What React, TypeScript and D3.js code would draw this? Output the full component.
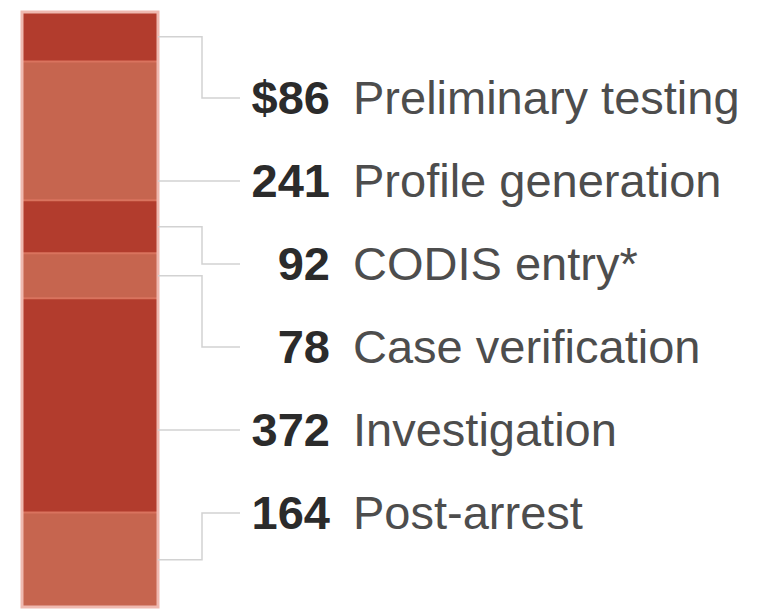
import * as d3 from "d3";

// stage names, values (top to bottom) and printed value labels
const STAGES = [
  "Preliminary testing",
  "Profile generation",
  "CODIS entry*",
  "Case verification",
  "Investigation",
  "Post-arrest",
];
const VALUES = [86, 241, 92, 78, 372, 164];
const VALUE_LABELS = ["$86", "241", "92", "78", "372", "164"];

const W = 760;
const H = 611;
const BAR_X = 22;
const BAR_W = 136;
const BAR_TOP = 12;
const BAR_BOTTOM = 607;
const ELBOW_X = 202;
const LINE_END = 240;
const NUM_X = 330;
const LABEL_X = 353;
const FONT = 47;

const DARK = "#b23c2d";
const LIGHT = "#c6654f";

export default function App() {
  const total = d3.sum(VALUES);
  const y = d3.scaleLinear().domain([0, total]).range([BAR_TOP, BAR_BOTTOM]);
  const row = d3
    .scaleLinear()
    .domain([0, STAGES.length - 1])
    .range([98, 513]);

  const starts = d3.cumsum([0, ...VALUES.slice(0, -1)]);
  const segs = VALUES.map((v, i) => ({
    y0: y(starts[i]),
    y1: y(starts[i] + v),
  }));

  const connector = (i: number) => {
    const s = segs[i];
    const ly = row(i);
    const x0 = BAR_X + BAR_W;
    if (ly >= s.y0 + 4 && ly <= s.y1 - 4) {
      return d3.line()([
        [x0, ly],
        [LINE_END, ly],
      ]);
    }
    const mid = (s.y0 + s.y1) / 2;
    return d3.line()([
      [x0, mid],
      [ELBOW_X, mid],
      [ELBOW_X, ly],
      [LINE_END, ly],
    ]);
  };

  return (
    <div>
      <style>{"body{margin:0}"}</style>
      <svg width={W} height={H} style={{ display: "block", background: "#fff" }}>
        {/* stacked bar */}
        {segs.map((s, i) => (
          <rect
            key={i}
            x={BAR_X}
            y={s.y0}
            width={BAR_W}
            height={s.y1 - s.y0}
            fill={i % 2 === 0 ? DARK : LIGHT}
          />
        ))}
        {/* light seams between segments */}
        {segs.slice(1).map((s, i) => (
          <line
            key={i}
            x1={BAR_X}
            x2={BAR_X + BAR_W}
            y1={s.y0}
            y2={s.y0}
            stroke="#d9735e"
            strokeWidth={2}
          />
        ))}
        <rect
          x={BAR_X}
          y={BAR_TOP}
          width={BAR_W}
          height={BAR_BOTTOM - BAR_TOP}
          fill="none"
          stroke="#efb9b0"
          strokeWidth={3}
        />

        {/* connectors */}
        {STAGES.map((_, i) => (
          <path
            key={i}
            d={connector(i) ?? ""}
            fill="none"
            stroke="#d2d2d2"
            strokeWidth={1.5}
          />
        ))}

        {/* labels */}
        {STAGES.map((name, i) => (
          <g key={name} fontFamily="'Liberation Sans', Arial, Helvetica, sans-serif" fontSize={FONT}>
            <text
              x={NUM_X}
              y={row(i)}
              dy="0.35em"
              textAnchor="end"
              fontWeight="bold"
              fill="#2b2b2b"
            >
              {VALUE_LABELS[i]}
            </text>
            <text x={LABEL_X} y={row(i)} dy="0.35em" fill="#4d4d4d">
              {name}
            </text>
          </g>
        ))}
      </svg>
    </div>
  );
}
